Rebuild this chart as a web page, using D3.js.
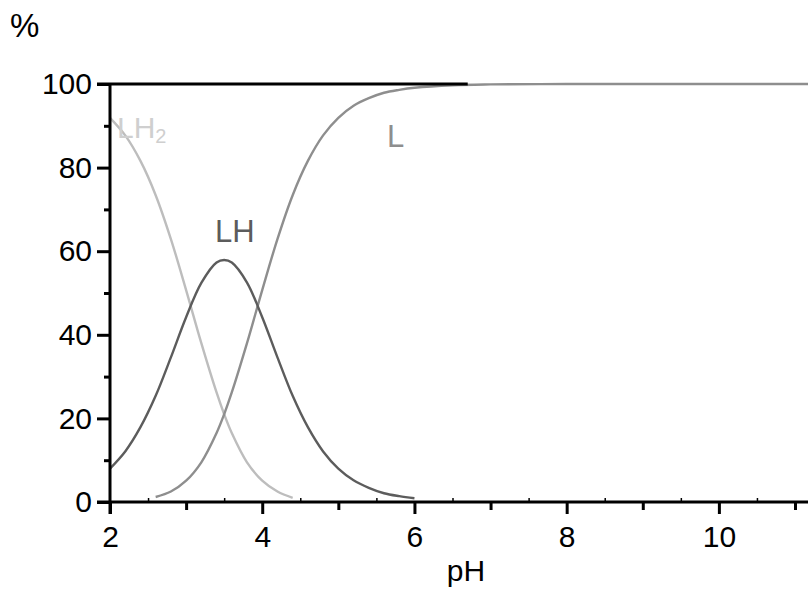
<!DOCTYPE html>
<html>
<head>
<meta charset="utf-8">
<script src="https://cdn.jsdelivr.net/npm/d3@7"></script>
<style>
  body { margin: 0; background: #fff; }
  svg { display: block; }
  text { font-family: "Liberation Sans", Arial, sans-serif; }
</style>
</head>
<body>
<svg id="chart" width="808" height="590"></svg>
<script>
// ---- data ----
const pHLH2 = [2.0, 2.2, 2.4, 2.6, 2.8, 3.0, 3.2, 3.4, 3.5, 3.6, 3.8, 4.0, 4.2, 4.4];
const valLH2 = [91.9, 87.7, 81.6, 73.4, 62.9, 50.7, 38.0, 26.2, 21.0, 16.5, 9.5, 5.1, 2.5, 1.0];

const pHLH = [2.0, 2.2, 2.4, 2.6, 2.8, 3.0, 3.2, 3.4, 3.5, 3.6, 3.8, 4.0, 4.2, 4.4, 4.6, 4.8, 5.0, 5.2, 5.4, 5.6, 5.8, 6.0];
const valLH = [8.0, 12.1, 17.9, 25.4, 34.6, 44.2, 52.4, 57.3, 57.9, 57.3, 52.5, 44.2, 34.6, 25.4, 17.9, 12.1, 8.0, 5.2, 3.4, 2.1, 1.4, 0.9];

const pHL = [2.6, 2.8, 3.0, 3.2, 3.4, 3.5, 3.6, 3.8, 4.0, 4.2, 4.4, 4.6, 4.8, 5.0, 5.2, 5.4, 5.6, 5.8, 6.0, 6.5, 7.0, 8.0, 9.0, 10.0, 11.2];
const valL = [1.2, 2.5, 5.1, 9.5, 16.5, 21.0, 26.2, 38.0, 50.7, 62.9, 73.4, 81.6, 87.7, 91.9, 94.8, 96.6, 97.9, 98.6, 99.1, 99.7, 99.9, 100, 100, 100, 100];

const xMajorTicks = [2, 4, 6, 8, 10];
const xMidTicks = [3, 5, 7, 9, 11];
const xMinorTicks = [2.5, 3.5, 4.5, 5.5, 6.5, 7.5, 8.5, 9.5, 10.5];
const yMajorTicks = [0, 20, 40, 60, 80, 100];
const yMinorTicks = [10, 30, 50, 70, 90];

const seriesNames = ["LH2", "LH", "L"];
const topRuleEnd = 6.7; // pH where the black top line ends

// ---- drawing ----
const svg = d3.select("#chart");
const x = d3.scaleLinear().domain([2, 11]).range([110, 795]);
const y = d3.scaleLinear().domain([0, 100]).range([502, 84]);

const colLH2 = "#bdbdbd", colLH = "#5c5c5c", colL = "#8e8e8e";

const line = d3.line().x(d => x(d[0])).y(d => y(d[1])).curve(d3.curveCatmullRom);

function drawSeries(px, vy, color) {
  svg.append("path")
    .datum(px.map((p, i) => [p, vy[i]]))
    .attr("d", line)
    .attr("fill", "none")
    .attr("stroke", color)
    .attr("stroke-width", 2.4);
}
drawSeries(pHLH2, valLH2, colLH2);
drawSeries(pHL, valL, colL);
drawSeries(pHLH, valLH, colLH);

// top black rule at 100
svg.append("line")
  .attr("x1", 97).attr("x2", x(topRuleEnd))
  .attr("y1", y(100)).attr("y2", y(100))
  .attr("stroke", "#000").attr("stroke-width", 3);

// axes
const fs = 30;
function styleAxis(g) {
  g.select(".domain").remove();
  g.selectAll(".tick line").attr("stroke", "#000").attr("stroke-width", 3);
}
// y axis
svg.append("g").attr("transform", `translate(${x(2)},0)`)
  .call(d3.axisLeft(y).tickValues(yMajorTicks).tickSize(13).tickPadding(5).tickFormat(d3.format("d")))
  .call(styleAxis)
  .call(g => g.selectAll("text").attr("font-size", fs).attr("fill", "#000")
    .attr("font-family", "Liberation Sans, Arial, sans-serif"));
svg.append("g").attr("transform", `translate(${x(2)},0)`)
  .call(d3.axisLeft(y).tickValues(yMinorTicks).tickSize(6).tickFormat(""))
  .call(styleAxis);
// x axis
svg.append("g").attr("transform", `translate(0,${y(0)})`)
  .call(d3.axisBottom(x).tickValues(xMajorTicks).tickSize(12).tickPadding(12).tickFormat(d3.format("d")))
  .call(styleAxis)
  .call(g => g.selectAll("text").attr("font-size", fs).attr("fill", "#000")
    .attr("font-family", "Liberation Sans, Arial, sans-serif"));
svg.append("g").attr("transform", `translate(0,${y(0)})`)
  .call(d3.axisBottom(x).tickValues(xMidTicks).tickSize(8).tickFormat(""))
  .call(styleAxis);
svg.append("g").attr("transform", `translate(0,${y(0)})`)
  .call(d3.axisBottom(x).tickValues(xMinorTicks).tickSize(-4).tickFormat(""))
  .call(styleAxis)
  .call(g => g.selectAll(".tick line").attr("stroke-width", 1.5));

// axis lines
svg.append("line").attr("x1", x(2)).attr("x2", x(2)).attr("y1", y(100)).attr("y2", 514)
  .attr("stroke", "#000").attr("stroke-width", 3);
svg.append("line").attr("x1", 97).attr("x2", 808).attr("y1", y(0)).attr("y2", y(0))
  .attr("stroke", "#000").attr("stroke-width", 3);

// axis titles
svg.append("text").attr("x", 10).attr("y", 37).attr("font-size", 33)
  .attr("font-family", "Liberation Serif, Times New Roman, serif").text("%");
svg.append("text").attr("x", 466).attr("y", 581).attr("text-anchor", "middle")
  .attr("font-size", fs).text("pH");

// series labels
const lab1 = svg.append("text").attr("x", 117).attr("y", 138).attr("font-size", 30)
  .attr("fill", "#cfcfcf");
lab1.append("tspan").text("LH");
lab1.append("tspan").attr("font-size", 20).attr("dy", 5).text("2");
svg.append("text").attr("x", 215).attr("y", 242).attr("font-size", 31)
  .attr("fill", colLH).text(seriesNames[1]);
svg.append("text").attr("x", 387).attr("y", 147).attr("font-size", 31)
  .attr("fill", colL).text(seriesNames[2]);
</script>
</body>
</html>
